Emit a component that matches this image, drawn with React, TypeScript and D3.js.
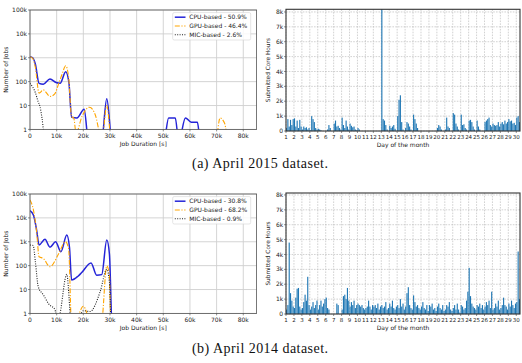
import React from "react";
import * as d3 from "d3";

// ---- job duration histograms (x in seconds, y = number of jobs) ----
const cpu2015: [number, number][] = [
  [0, 1100], [1000, 1000], [2000, 550], [3400, 85], [5000, 78], [7500, 130],
  [9800, 92], [11300, 85], [13400, 260], [14600, 90], [15600, 3.2], [17600, 3],
  [20300, 7], [22000, 0], [26800, 0], [28800, 19], [30800, 0], [50200, 0],
  [52000, 3], [54500, 3], [55800, 0], [58300, 3], [60500, 2], [62800, 2],
  [63900, 0], [85000, 0],
];
const gpu2015: [number, number][] = [
  [0, 1100], [1000, 950], [2000, 400], [3400, 33], [5000, 45], [7500, 24],
  [9200, 30], [10800, 85], [12000, 200], [13400, 460], [14500, 150],
  [15600, 3.4], [16400, 3], [17300, 0.7], [19500, 3.5], [22300, 8.5],
  [24500, 4], [26200, 0.6], [26900, 0], [28800, 10], [30600, 0], [69600, 0],
  [71300, 3], [73000, 1.8], [74400, 0], [85000, 0],
];
const mic2015: [number, number][] = [
  [0, 85], [1000, 60], [2000, 35], [3000, 15], [3750, 9], [4500, 3], [5700, 0],
  [85000, 0],
];

const cpu2014: [number, number][] = [
  [0, 20000], [1300, 13000], [2500, 3000], [3400, 730], [5600, 1260],
  [7500, 590], [9600, 1000], [11600, 380], [13800, 1900], [14800, 600],
  [15600, 25], [18000, 36], [19300, 50], [22900, 130], [25000, 40],
  [26900, 42], [28800, 1180], [29800, 300], [30800, 0], [85000, 0],
];
const gpu2014: [number, number][] = [
  [0, 56000], [1300, 21000], [2500, 2500], [3400, 235], [5000, 200],
  [7500, 90], [10800, 320], [13300, 1000], [14500, 500], [15600, 0],
  [17400, 0.5], [20000, 2], [22500, 0.5], [26700, 0], [28800, 96],
  [29800, 40], [30300, 0], [85000, 0],
];
const mic2014: [number, number][] = [
  [0, 730], [1200, 700], [2000, 150], [3100, 13], [5000, 6], [7000, 2.5],
  [9400, 1.4], [10300, 0], [11300, 1], [13800, 43], [15600, 0], [18000, 0.5],
  [20000, 1.3], [22500, 1.2], [26300, 8], [28800, 70], [29800, 20],
  [30500, 0], [85000, 0],
];

const legend2015 = ["CPU-based - 50.9%", "GPU-based - 46.4%", "MIC-based - 2.6%"];
const legend2014 = ["CPU-based - 30.8%", "GPU-based - 68.2%", "MIC-based - 0.9%"];

// ---- submitted core hours, 6 bins (4h) per day, values in k core hours ----
const coreHours2015: number[][] = [
  [0.2, 0.8, 0.3, 0.75, 0.4, 0.8],
  [0.85, 0.3, 0.7, 0.2, 0.75, 0.3],
  [0.1, 0.3, 0.2, 0.25, 0.1, 0.2],
  [0.05, 1.0, 0.8, 0.6, 0.2, 0.1],
  [0.15, 0.1, 0.05, 0, 0, 0],
  [0, 0.1, 0.4, 0.2, 0, 0],
  [0.5, 0.7, 0.3, 0.35, 0.2, 0.1],
  [0.9, 0.4, 0.2, 0.7, 0.3, 0.1],
  [0.5, 0.35, 0.25, 0.3, 0.1, 0.05],
  [0.2, 0.1, 0, 0, 0, 0],
  [0, 0, 0, 0, 0, 0],
  [0, 0, 0, 0, 0, 0],
  [8.2, 0.8, 0.7, 0.4, 0.1, 0],
  [0.35, 0.2, 0.3, 0.4, 0.15, 0],
  [1.0, 2.1, 2.4, 0.6, 0.1, 0],
  [0.2, 0.6, 0.5, 0.3, 0.1, 0],
  [1.1, 0.8, 0.5, 0.2, 0, 0],
  [0, 0, 0, 0, 0, 0],
  [0, 0, 0, 0, 0, 0],
  [0.2, 0.4, 0.3, 0.1, 0, 0],
  [0.1, 0.9, 0.3, 0.2, 0, 0],
  [1.2, 1.1, 0.5, 0.3, 0.1, 0],
  [1.1, 0.4, 0.45, 0.2, 0.1, 0],
  [0.7, 0.75, 0.6, 0.3, 0.1, 0],
  [0.7, 0.3, 0.1, 0, 0, 0],
  [0.6, 0.7, 0.8, 0.9, 0.4, 0.3],
  [0.5, 0.4, 0.35, 0.4, 0.6, 0.3],
  [0.5, 0.6, 0.45, 0.7, 0.5, 0.6],
  [0.8, 0.65, 0.7, 0.5, 0.55, 0.4],
  [0.9, 1.0, 0.6, 0.3, 0.2, 0.1],
];
const coreHours2014: number[][] = [
  [0.3, 0.6, 4.8, 1.4, 0.9, 0.5],
  [0.4, 1.1, 1.7, 1.75, 0.5, 0.3],
  [0.4, 0.8, 1.3, 0.9, 2.5, 0.6],
  [0.3, 0.5, 0.8, 0.4, 0.6, 0.9],
  [0.3, 0.6, 0.9, 0.5, 0.7, 1.0],
  [1.1, 0.4, 0.3, 0, 0, 0],
  [0, 0, 0.7, 0.6, 0, 0],
  [0.3, 1.2, 1.3, 1.0, 1.75, 0.9],
  [0.5, 0.8, 0.6, 0.9, 0.4, 0.6],
  [0.7, 0.6, 0.5, 0.6, 0.4, 0.3],
  [0.4, 0.5, 0.9, 0.5, 0.3, 0.6],
  [0.5, 0.6, 0.4, 0.7, 0.3, 0.5],
  [0.6, 0.4, 0.5, 0.8, 0.3, 0.4],
  [0.7, 0.5, 0.9, 0.4, 0.3, 0.5],
  [0.6, 0.4, 1.0, 0.5, 0.7, 0.3],
  [0.5, 1.4, 1.8, 0.6, 0.4, 0.3],
  [1.25, 0.8, 0.5, 0.6, 0.4, 0.3],
  [0.5, 0.8, 0.4, 0.3, 0.6, 0.2],
  [0.6, 0.5, 0.7, 0.3, 0.4, 0.2],
  [0.5, 0.7, 0.4, 0.3, 0.6, 0.2],
  [0.3, 0.6, 0.5, 0.8, 0.3, 0.2],
  [0.4, 0.6, 0.3, 0.7, 0.3, 0.1],
  [0.6, 0.5, 0.3, 0.4, 0.9, 1.5],
  [3.1, 1.2, 0.7, 0.5, 0.4, 0.3],
  [0.6, 0.5, 0.7, 0.4, 0.6, 0.3],
  [0.5, 0.8, 0.6, 0.9, 0.4, 1.5],
  [0.3, 0.4, 0.7, 0.5, 0.9, 0.3],
  [0.4, 0.6, 1.1, 0.6, 0.5, 0.3],
  [0.7, 0.5, 0.9, 0.6, 0.4, 0.7],
  [0.8, 4.2, 1.0, 0.6, 0.5, 0.4],
];

// ---- ticks ----
const durationTicks = [0, 10000, 20000, 30000, 40000, 50000, 60000, 70000, 80000];
const durationLabels = ["0", "10k", "20k", "30k", "40k", "50k", "60k", "70k", "80k"];
const countTicks = [1, 10, 100, 1000, 10000, 100000];
const countLabels = ["1", "10", "100", "1k", "10k", "100k"];
const hourTicks = [0, 1, 2, 3, 4, 5, 6, 7, 8];
const hourLabels = ["0", "1k", "2k", "3k", "4k", "5k", "6k", "7k", "8k"];
const dayTicks = [
  1, 2, 3, 4, 5, 6, 7, 8, 9, 10, 11, 12, 13, 14, 15,
  16, 17, 18, 19, 20, 21, 22, 23, 24, 25, 26, 27, 28, 29, 30,
];

const FONT = "DejaVu Sans, sans-serif";
const TICK_COLOR = "#222";

function JobPanel({ top, cpu, gpu, mic, legend, id }: any) {
  const left = 30, right = 256.6, bottom = top + 119.4;
  const x = d3.scaleLinear().domain([0, 85000]).range([left, right]);
  const y = d3.scaleLog().domain([1, 100000]).range([bottom, top]);
  const line = d3
    .line<[number, number]>()
    .x((d) => x(d[0]))
    .y((d) => y(Math.max(d[1], 0.3)))
    .curve(d3.curveMonotoneX);

  const styles = [
    { data: cpu, stroke: "#2424d8", width: 1.5, dash: undefined },
    { data: gpu, stroke: "#ffa500", width: 1.1, dash: "5,1.6,1.2,1.6" },
    { data: mic, stroke: "#222", width: 1.1, dash: "1,1.4" },
  ];

  return (
    <g>
      <defs>
        <clipPath id={id}>
          <rect x={left} y={top} width={right - left} height={bottom - top} />
        </clipPath>
      </defs>
      <rect x={left} y={top} width={right - left} height={bottom - top} fill="#fff" />
      {durationTicks.map((t) => (
        <line key={"gx" + t} x1={x(t)} x2={x(t)} y1={top} y2={bottom} stroke="#cfcfcf" strokeWidth={0.9} />
      ))}
      {countTicks.map((t) => (
        <line key={"gy" + t} x1={left} x2={right} y1={y(t)} y2={y(t)} stroke="#cfcfcf" strokeWidth={0.9} />
      ))}
      <g clipPath={`url(#${id})`}>
        {styles.map((s, i) => (
          <path key={i} d={line(s.data) || ""} fill="none" stroke={s.stroke} strokeWidth={s.width} strokeDasharray={s.dash} />
        ))}
      </g>
      <rect x={left} y={top} width={right - left} height={bottom - top} fill="none" stroke="#555" strokeWidth={0.8} />
      {durationTicks.map((t, i) => (
        <g key={"tx" + t}>
          <line x1={x(t)} x2={x(t)} y1={bottom} y2={bottom + 2} stroke="#444" strokeWidth={0.6} />
          <text x={x(t)} y={bottom + 8.6} fontSize={6} textAnchor="middle" fill={TICK_COLOR} fontFamily={FONT}>
            {durationLabels[i]}
          </text>
        </g>
      ))}
      {countTicks.map((t, i) => (
        <g key={"ty" + t}>
          <line x1={left - 2} x2={left} y1={y(t)} y2={y(t)} stroke="#444" strokeWidth={0.6} />
          <text x={left - 3} y={y(t) + 2.1} fontSize={6} textAnchor="end" fill={TICK_COLOR} fontFamily={FONT}>
            {countLabels[i]}
          </text>
        </g>
      ))}
      <text x={(left + right) / 2} y={bottom + 16.5} fontSize={6} textAnchor="middle" fill={TICK_COLOR} fontFamily={FONT}>
        Job Duration [s]
      </text>
      <text
        transform={`translate(7.5,${(top + bottom) / 2}) rotate(-90)`}
        fontSize={6}
        textAnchor="middle"
        fill={TICK_COLOR}
        fontFamily={FONT}
      >
        Number of Jobs
      </text>
      <g>
        <rect x={172.7} y={top + 2.6} width={78} height={27.4} rx={1.5} fill="#fff" fillOpacity={0.85} stroke="#d4d4d4" strokeWidth={0.6} />
        {legend.map((label: string, i: number) => {
          const ly = top + 7.2 + i * 8.8;
          const s = styles[i];
          return (
            <g key={label}>
              <line x1={174.8} x2={185.5} y1={ly} y2={ly} stroke={s.stroke} strokeWidth={s.width} strokeDasharray={s.dash} />
              <text x={189.3} y={ly + 2.1} fontSize={6} fill={TICK_COLOR} fontFamily={FONT}>
                {label}
              </text>
            </g>
          );
        })}
      </g>
    </g>
  );
}

function HoursPanel({ top, bottom, values, id }: any) {
  const left = 286, right = 520;
  const x = d3.scaleLinear().domain([1, 30.47]).range([left, right]);
  const perK = 14.88;
  const y = d3.scaleLinear().domain([0, (bottom - top) / perK]).range([bottom, top]);
  const bins = (values as number[][]).flatMap((row, d) =>
    row.map((v, i) => ({ start: d + 1 + i / row.length, end: d + 1 + (i + 1) / row.length, v }))
  );

  return (
    <g>
      <defs>
        <clipPath id={id}>
          <rect x={left} y={top} width={right - left} height={bottom - top} />
        </clipPath>
      </defs>
      <rect x={left} y={top} width={right - left} height={bottom - top} fill="#fff" />
      {dayTicks.map((t) => (
        <line key={"gx" + t} x1={x(t)} x2={x(t)} y1={top} y2={bottom} stroke="#b4b4b4" strokeWidth={0.6} strokeDasharray="1.6,1.2" />
      ))}
      {hourTicks.map((t) => (
        <line key={"gy" + t} x1={left} x2={right} y1={y(t)} y2={y(t)} stroke="#b4b4b4" strokeWidth={0.6} strokeDasharray="1.6,1.2" />
      ))}
      <g clipPath={`url(#${id})`}>
        {bins.map((b, i) =>
          b.v > 0 ? (
            <rect
              key={i}
              x={x(b.start)}
              width={Math.max(0.6, x(b.end) - x(b.start) - 0.2)}
              y={y(b.v)}
              height={y(0) - y(b.v)}
              fill="#1f77b4"
            />
          ) : null
        )}
      </g>
      <rect x={left} y={top} width={right - left} height={bottom - top} fill="none" stroke="#333" strokeWidth={1.1} />
      {dayTicks.map((t) => (
        <g key={"tx" + t}>
          <line x1={x(t)} x2={x(t)} y1={bottom} y2={bottom + 2} stroke="#444" strokeWidth={0.6} />
          <text x={x(t)} y={bottom + 8} fontSize={5.5} textAnchor="middle" fill={TICK_COLOR} fontFamily={FONT}>
            {t}
          </text>
        </g>
      ))}
      {hourTicks.map((t, i) => (
        <g key={"ty" + t}>
          <line x1={left - 2} x2={left} y1={y(t)} y2={y(t)} stroke="#444" strokeWidth={0.6} />
          <text x={left - 2.8} y={y(t) + 2.1} fontSize={6} textAnchor="end" fill={TICK_COLOR} fontFamily={FONT}>
            {hourLabels[i]}
          </text>
        </g>
      ))}
      <text x={(left + right) / 2} y={bottom + 15.5} fontSize={6} textAnchor="middle" fill={TICK_COLOR} fontFamily={FONT}>
        Day of the month
      </text>
      <text
        transform={`translate(270,${(top + bottom) / 2}) rotate(-90)`}
        fontSize={5.8}
        textAnchor="middle"
        fill={TICK_COLOR}
        fontFamily={FONT}
      >
        Submitted Core Hours
      </text>
    </g>
  );
}

export default function App() {
  return (
    <svg
      width={522}
      height={363}
      style={{ position: "absolute", left: 0, top: 0, background: "#fff" }}
    >
      <JobPanel top={10} cpu={cpu2015} gpu={gpu2015} mic={mic2015} legend={legend2015} id="clipA" />
      <HoursPanel top={9.3} bottom={131} values={coreHours2015} id="clipB" />
      <JobPanel top={194} cpu={cpu2014} gpu={gpu2014} mic={mic2014} legend={legend2014} id="clipC" />
      <HoursPanel top={193} bottom={314} values={coreHours2014} id="clipD" />
      <text x={260} y={168} fontSize={14} textAnchor="middle" fontFamily="Liberation Serif, serif" fill="#111" textLength={136} lengthAdjust="spacing">
        (a) April 2015 dataset.
      </text>
      <text x={260} y={352.5} fontSize={14} textAnchor="middle" fontFamily="Liberation Serif, serif" fill="#111" textLength={136} lengthAdjust="spacing">
        (b) April 2014 dataset.
      </text>
    </svg>
  );
}
